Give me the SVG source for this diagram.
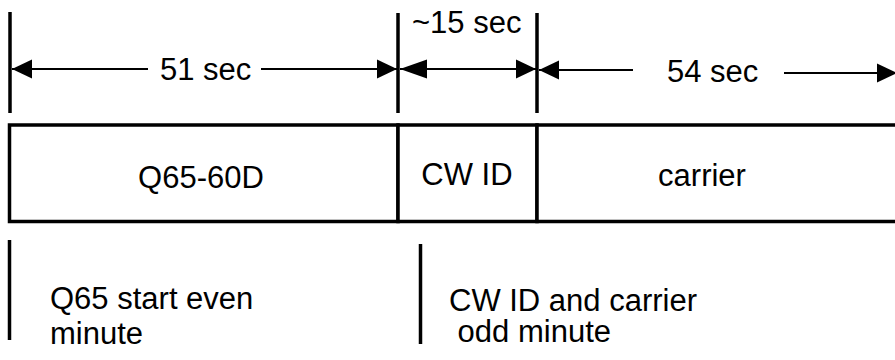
<svg xmlns="http://www.w3.org/2000/svg" width="895" height="360" viewBox="0 0 895 360">
  <defs>
    <marker id="head" markerUnits="userSpaceOnUse" markerWidth="20" markerHeight="20" refX="20" refY="10" orient="auto-start-reverse">
      <path d="M0,0.5 L20,10 L0,19.5 z" fill="#000"/>
    </marker>
    <marker id="headLong" markerUnits="userSpaceOnUse" markerWidth="27" markerHeight="20" refX="27" refY="10" orient="auto-start-reverse">
      <path d="M0,0.5 L27,10 L0,19.5 z" fill="#000"/>
    </marker>
  </defs>
  <style>
    text { font-family: "Liberation Sans", Arial, sans-serif; font-size: 31px; fill: #000; }
    .tick { stroke: #000; stroke-width: 3.5; fill: none; }
    .box { stroke: #000; stroke-width: 3.5; fill: #fff; }
    .dim { stroke: #000; stroke-width: 2; fill: none; }
  </style>

  <rect width="895" height="360" fill="#fff"/>

  <!-- boundary ticks above the timeline -->
  <g id="ticks">
    <line class="tick" x1="10" y1="12" x2="10" y2="113"/>
    <line class="tick" x1="398" y1="13" x2="398" y2="113"/>
    <line class="tick" x1="537" y1="13" x2="537" y2="113"/>
  </g>

  <!-- timeline segments -->
  <g id="seg-q65">
    <rect class="box" x="9.5" y="125" width="388.5" height="96.5"/>
    <text x="201" y="188" text-anchor="middle">Q65-60D</text>
  </g>
  <g id="seg-cwid">
    <rect class="box" x="398" y="125" width="139" height="96.5"/>
    <text x="467" y="185" text-anchor="middle">CW ID</text>
  </g>
  <g id="seg-carrier">
    <rect class="box" x="537" y="125" width="380" height="96.5"/>
    <text x="702" y="186" text-anchor="middle">carrier</text>
  </g>

  <!-- duration labels -->
  <g id="label-51">
    <text x="160" y="80">51 sec</text>
  </g>
  <g id="label-15">
    <text x="412" y="33">~15 sec</text>
  </g>
  <g id="label-54">
    <text x="667" y="82">54 sec</text>
  </g>

  <!-- dimension arrows -->
  <g id="connectors">
    <line class="dim" x1="12" y1="69" x2="148" y2="69" marker-start="url(#head)"/>
    <line class="dim" x1="261" y1="69" x2="397" y2="69" marker-end="url(#head)"/>
    <line class="dim" x1="400" y1="69" x2="536" y2="69" marker-start="url(#headLong)" marker-end="url(#head)"/>
    <line class="dim" x1="539" y1="70" x2="633" y2="70" marker-start="url(#head)"/>
    <line class="dim" x1="784" y1="73" x2="897" y2="73" marker-end="url(#head)"/>
  </g>

  <!-- notes below the timeline -->
  <g id="note-even">
    <line class="tick" x1="9.5" y1="240" x2="9.5" y2="340"/>
    <text x="50" y="309">Q65 start even</text>
    <text x="50" y="344">minute</text>
  </g>
  <g id="note-odd">
    <line class="tick" x1="420.5" y1="244" x2="420.5" y2="344"/>
    <text x="449" y="311">CW ID and carrier</text>
    <text x="449" y="342" xml:space="preserve"> odd minute</text>
  </g>
</svg>
